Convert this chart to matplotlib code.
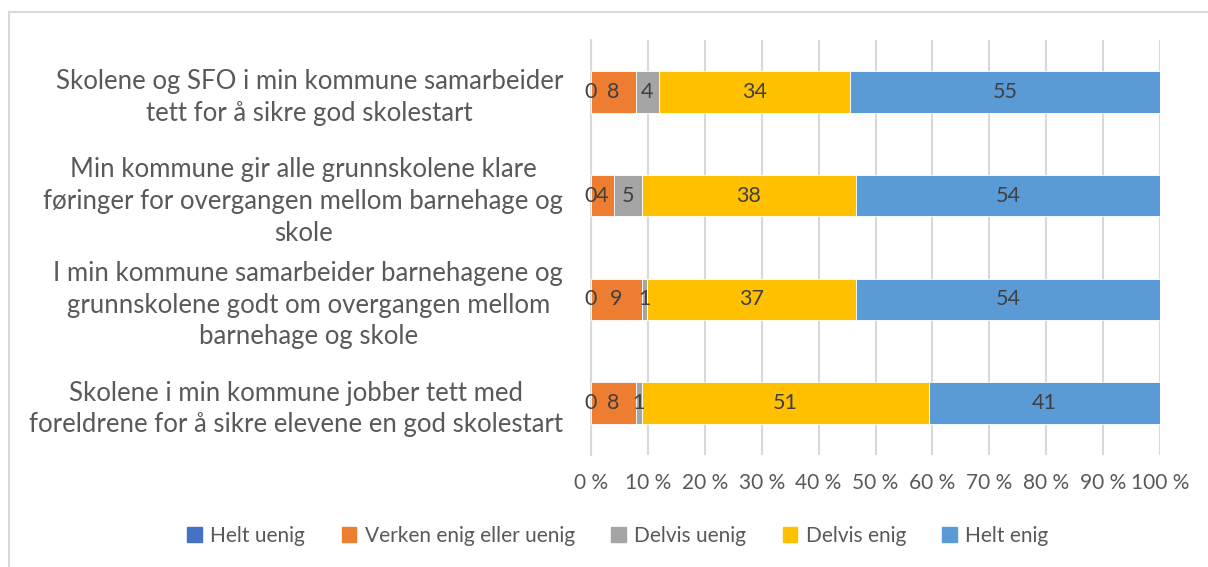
import numpy as np
import matplotlib.pyplot as plt
from matplotlib.lines import Line2D

plt.rcParams['font.family'] = ['Lato', 'DejaVu Sans']

# Data
questions = [
    'Skolene og SFO i min kommune samarbeider\ntett for å sikre god skolestart',
    'Min kommune gir alle grunnskolene klare\nføringer for overgangen mellom barnehage og\nskole',
    'I min kommune samarbeider barnehagene og\ngrunnskolene godt om overgangen mellom\nbarnehage og skole',
    'Skolene i min kommune jobber tett med\nforeldrene for å sikre elevene en god skolestart',
]
series_names = ['Helt uenig', 'Verken enig eller uenig', 'Delvis uenig', 'Delvis enig', 'Helt enig']
helt_uenig = [0, 0, 0, 0]
verken = [8, 4, 9, 8]
delvis_uenig = [4, 5, 1, 1]
delvis_enig = [34, 38, 37, 51]
helt_enig = [55, 54, 54, 41]
colors = ['#4472C4', '#ED7D31', '#A5A5A5', '#FFC000', '#5B9BD5']

values = np.array([helt_uenig, verken, delvis_uenig, delvis_enig, helt_enig], dtype=float)
totals = values.sum(axis=0)
pct = values / totals * 100

fig = plt.figure(figsize=(12.08, 5.67), dpi=100)
ax = fig.add_axes([591 / 1208, 1 - 455 / 567, (1160 - 591) / 1208, (455 - 40) / 567])

y = np.arange(len(questions))
left = np.zeros(len(questions))
for i, name in enumerate(series_names):
    ax.barh(y, pct[i], left=left, height=0.4, color=colors[i], label=name, zorder=3,
            edgecolor='white', linewidth=0.6)
    for j in range(len(questions)):
        ax.text(left[j] + pct[i][j] / 2, y[j], f'{int(values[i][j])}', ha='center', va='center',
                fontsize=15.5, color='#404040', zorder=4)
    left += pct[i]

ax.set_xlim(0, 100)
ax.set_ylim(len(questions) - 0.5, -0.5)
ax.set_xticks(np.arange(0, 101, 10))
ax.set_xticklabels([f'{t} %' for t in range(0, 101, 10)], fontsize=15, color='#595959')
ax.set_yticks(y)
ax.set_yticklabels(questions, fontsize=18.5, color='#595959', multialignment='center',
                   linespacing=1.33)
ax.tick_params(axis='both', length=0)
ax.tick_params(axis='y', pad=20)
ax.tick_params(axis='x', pad=13)
ax.grid(axis='x', color='#D9D9D9', linewidth=1.5, zorder=0)
for s in ['top', 'right', 'bottom']:
    ax.spines[s].set_visible(False)
ax.spines['left'].set_color('#D9D9D9')
ax.spines['left'].set_linewidth(1.5)

handles = [plt.Rectangle((0, 0), 1, 1, color=c) for c in colors]
fig.legend(handles, series_names, loc='center', bbox_to_anchor=(618 / 1208, 1 - 536 / 567),
           ncol=5, frameon=False, fontsize=15, labelcolor='#595959',
           handlelength=0.7, handleheight=0.7, handletextpad=0.4, columnspacing=1.75)

# outer chart border
fig.add_artist(Line2D([9 / 1208, 9 / 1208], [0, 1 - 12 / 567], color='#D9D9D9', linewidth=1.5))
fig.add_artist(Line2D([9 / 1208, 1], [1 - 12 / 567, 1 - 12 / 567], color='#D9D9D9', linewidth=1.5))

fig.savefig('out.png', dpi=100)
